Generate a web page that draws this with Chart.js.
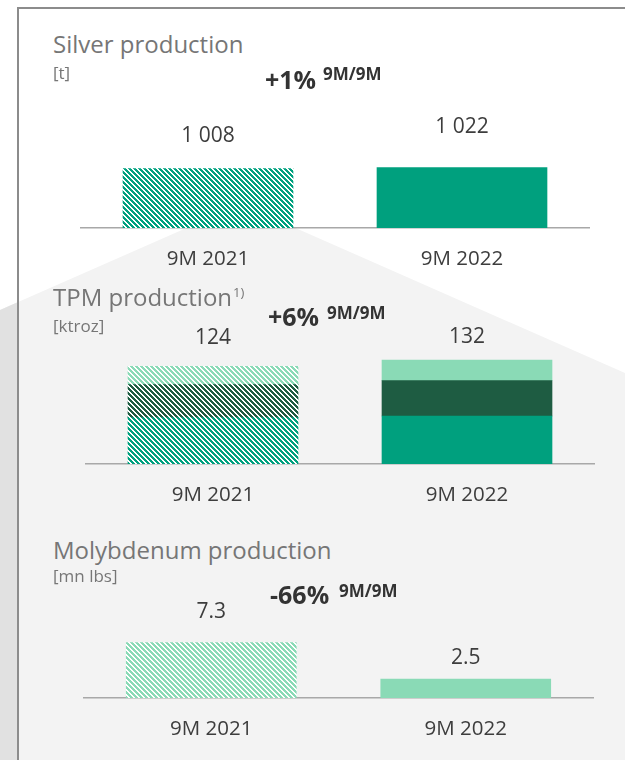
<!DOCTYPE html>
<html>
<head>
<meta charset="utf-8">
<script src="https://cdn.jsdelivr.net/npm/chart.js@4.4.1/dist/chart.umd.min.js"></script>
<style>
  body { margin: 0; }
  #page { position: relative; width: 625px; height: 760px; background: #fff; overflow: hidden; font-family: "Open Sans", sans-serif; }
  .bg { position: absolute; left: 0; top: 0; width: 625px; height: 760px; }
  #shape { background: #f3f3f3; clip-path: polygon(0 310px, 241px 204px, 625px 373px, 625px 760px, 0 760px); }
  #strip { background: #e1e1e1; clip-path: polygon(0 310px, 17px 302.5px, 17px 760px, 0 760px); }
  .frame { position: absolute; background: #8c8c8c; }
  canvas { position: absolute; left: 0; }
  .t { position: absolute; line-height: 1; white-space: nowrap; }
  .title { font-size: 24px; color: #767676; }
  .unit { font-size: 17px; color: #767676; }
  .note { font-size: 13px; color: #767676; }
  .pct { font-size: 25px; font-weight: 700; color: #333; }
  .sup { font-size: 17px; font-weight: 700; color: #333; }
</style>
</head>
<body>
<div id="page">
  <div class="bg" id="shape"></div>
  <div class="bg" id="strip"></div>
  <div class="frame" style="left:17px; top:7px; width:2px; height:753px;"></div>
  <div class="frame" style="left:17px; top:7px; width:608px; height:2px;"></div>

  <canvas id="silverChart" width="625" height="200" style="top:90px;"></canvas>
  <canvas id="tpmChart" width="625" height="210" style="top:316px;"></canvas>
  <canvas id="molyChart" width="625" height="168" style="top:592px;"></canvas>

  <div class="t title" style="left:53px; top:32px;">Silver production</div>
  <div class="t unit" style="left:53px; top:64px;">[t]</div>
  <div class="t pct" style="left:265px; top:67px;">+1%</div>
  <div class="t sup" style="left:323px; top:65px;">9M/9M</div>

  <div class="t title" style="left:53px; top:285px;">TPM production</div>
  <div class="t note" style="left:233px; top:286px;">1)</div>
  <div class="t unit" style="left:53px; top:317px;">[ktroz]</div>
  <div class="t pct" style="left:268px; top:304px;">+6%</div>
  <div class="t sup" style="left:327px; top:304px;">9M/9M</div>

  <div class="t title" style="left:53px; top:538px;">Molybdenum production</div>
  <div class="t unit" style="left:53px; top:567px;">[mn lbs]</div>
  <div class="t pct" style="left:270px; top:582px;">-66%</div>
  <div class="t sup" style="left:339px; top:582px;">9M/9M</div>
</div>

<script>
const categories = ["9M 2021", "9M 2022"];

// Silver [t]
const silverValues = [1008, 1022];

// TPM [ktroz] - warstwy od dołu
const tpmBottom = [59, 61];
const tpmMiddle = [42, 45];
const tpmTop = [23, 26];

// Molybdenum [mn lbs]
const molyValues = [7.3, 2.5];

const TEAL = "#00a07e";
const DARK = "#1e5c42";
const LIGHT = "#8adab6";

// ukośne paski dla 9M 2021
function hatch(color) {
    const n = 5;
    const c = document.createElement("canvas");
    c.width = n;
    c.height = n;
    const g = c.getContext("2d");
    g.fillStyle = "#fff";
    g.fillRect(0, 0, n, n);
    g.fillStyle = color;
    for (let y = 0; y < n; y++) {
        for (let x = 0; x < n; x++) {
            if ((((x - y) % n) + n) % n < 3) g.fillRect(x, y, 1, 1);
        }
    }
    return g.createPattern(c, "repeat");
}

function formatValue(v) {
    return String(v).replace(/\B(?=(\d{3})+(?!\d))/g, " ");
}

const valueLabels = {
    id: "valueLabels",
    afterDatasetsDraw(chart, args, opts) {
        const ctx = chart.ctx;
        const sets = chart.data.datasets;
        const last = chart.getDatasetMeta(sets.length - 1);
        ctx.save();
        ctx.font = "21px 'Open Sans'";
        ctx.fillStyle = "#3d3d3d";
        ctx.textAlign = "center";
        ctx.textBaseline = "middle";
        last.data.forEach((bar, i) => {
            const total = Math.round(sets.reduce((s, d) => s + d.data[i], 0) * 10) / 10;
            ctx.fillText(formatValue(total), bar.x, bar.y - opts.lift[i]);
        });
        ctx.restore();
    }
};

function layer(values, color) {
    return {
        data: values,
        backgroundColor: [hatch(color), color],
        borderWidth: 0,
        barThickness: 170
    };
}

function makeChart(id, datasets, yMax, lift, pad) {
    new Chart(document.getElementById(id), {
        type: "bar",
        data: { labels: categories, datasets: datasets },
        plugins: [valueLabels],
        options: {
            responsive: false,
            animation: false,
            layout: { padding: { left: pad[0], right: pad[1], top: pad[2], bottom: 0 } },
            plugins: {
                legend: { display: false },
                tooltip: { enabled: false },
                valueLabels: { lift: lift }
            },
            scales: {
                x: {
                    stacked: true,
                    grid: { display: false, drawTicks: false },
                    border: { display: true, color: "#a8a8a8", width: 1.5 },
                    ticks: {
                        color: "#3d3d3d",
                        padding: 19,
                        font: { family: "'Open Sans'", size: 20.5, lineHeight: "24px" }
                    }
                },
                y: { stacked: true, display: false, min: 0, max: yMax }
            }
        }
    });
}

makeChart("silverChart", [layer(silverValues, TEAL)], 2000, [32.5, 41], [81, 36, 20]);
makeChart("tpmChart", [
    layer(tpmBottom, TEAL),
    layer(tpmMiddle, DARK),
    layer(tpmTop, LIGHT)
], 150, [28.5, 23.5], [86, 31, 30]);
makeChart("molyChart", [layer(molyValues, LIGHT)], 10, [30.5, 20.5], [84, 32, 30]);
</script>
</body>
</html>
